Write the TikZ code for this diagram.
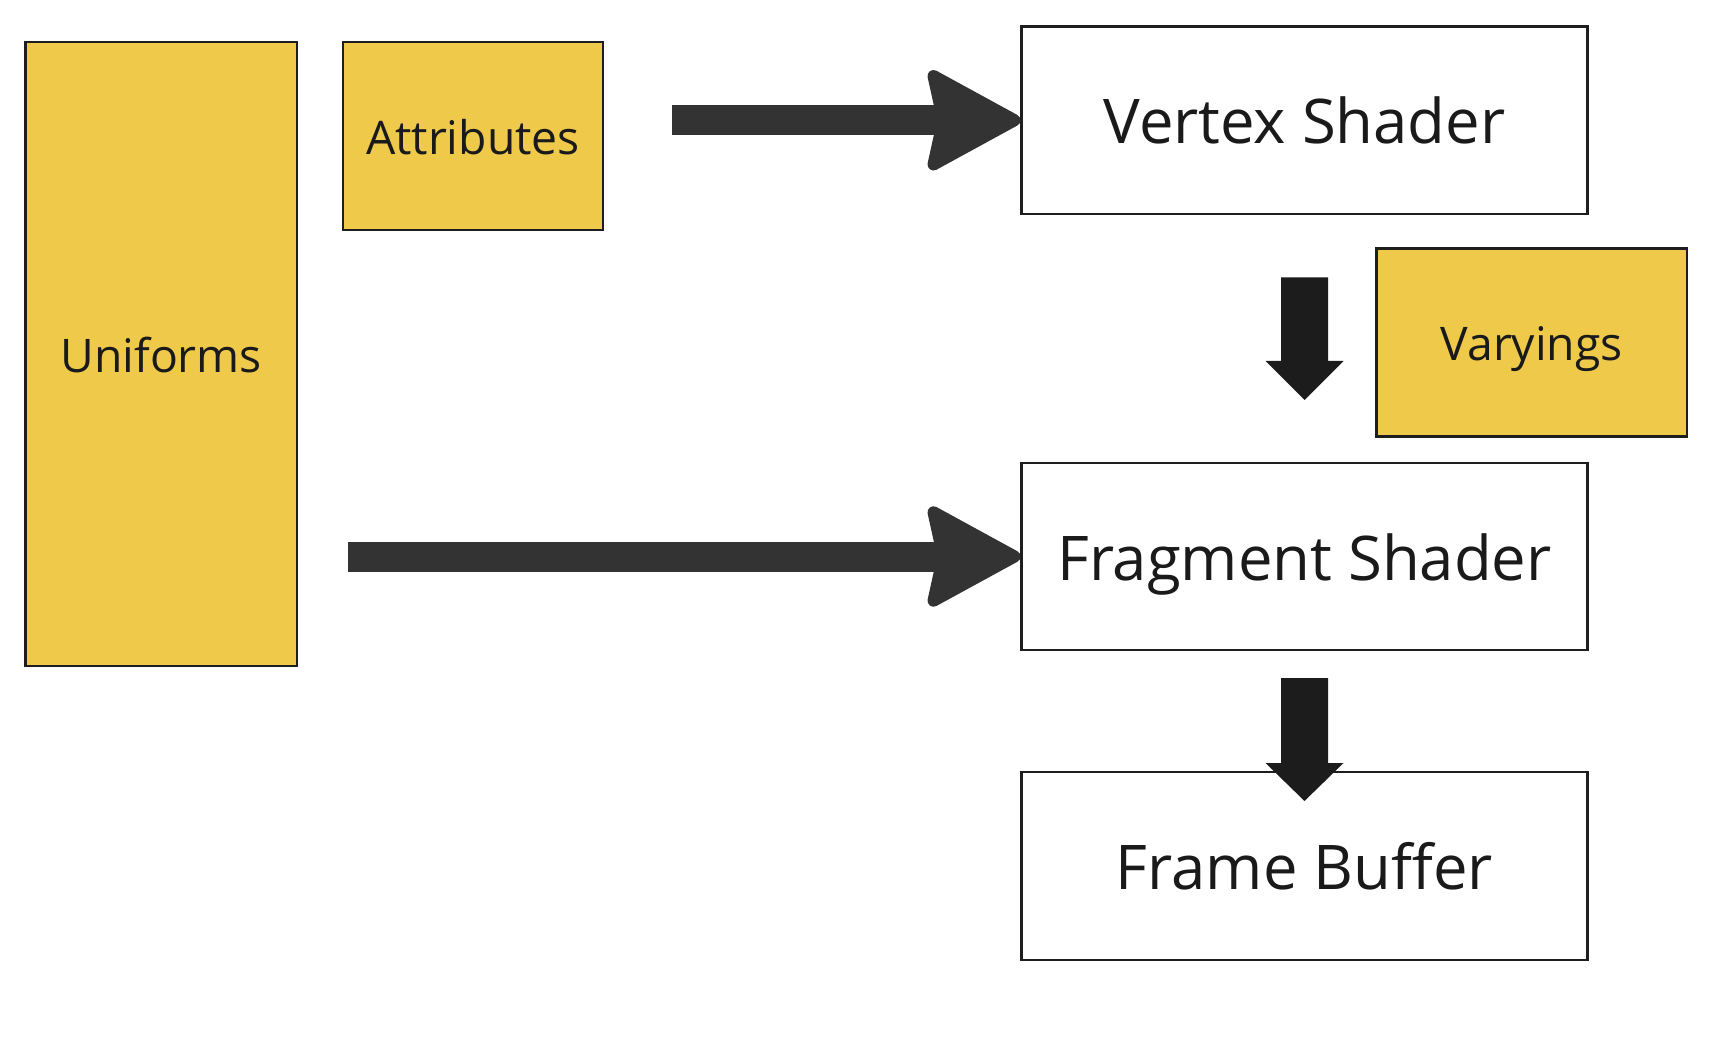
\documentclass[tikz,border=0pt]{standalone}
\usepackage{fontspec}
\setmainfont{Open Sans}
\usetikzlibrary{calc}
\definecolor{boxyellow}{HTML}{EFC94A}
\definecolor{edgec}{HTML}{1E1E1E}
\definecolor{harrowc}{HTML}{333333}
\definecolor{varrowc}{HTML}{1C1C1C}
\definecolor{txtc}{HTML}{1A1A1A}
\tikzset{
  box/.style={draw=edgec, line width=2.4pt, inner sep=0pt, outer sep=0pt, text=txtc, text depth=0pt, align=center},
  ybox/.style={box, fill=boxyellow, text height=37pt, font=\fontsize{46.3}{50}\selectfont},
  wbox/.style={box, fill=white, text height=47.5pt, font=\fontsize{61.6}{66}\selectfont},
  harrow/.style={fill=harrowc, draw=harrowc, line width=12pt, line join=round},
  hshaft/.style={fill=harrowc},
  varrow/.style={fill=varrowc}
}
\begin{document}
\begin{tikzpicture}[x=1pt,y=-1pt]
\useasboundingbox (0,0) rectangle (1730,1056);
\fill[white] (0,0) rectangle (1730,1056);

\node[ybox, minimum width=271.5pt, minimum height=624pt] (uni) at (161.25,354) {Uniforms};
\node[ybox, minimum width=260pt, minimum height=188pt] (attr) at (473,136) {Attributes};
\node[wbox, minimum width=566pt, minimum height=187.5pt] (vs) at (1304.5,120.25) {Vertex Shader};
\node[ybox, minimum width=310.5pt, minimum height=188pt] (var) at (1531.75,342.5) {Varyings};
\node[wbox, minimum width=566pt, minimum height=187pt] (fs) at (1304.5,556.5) {Fragment Shader};
\node[wbox, minimum width=566pt, minimum height=188pt] (fb) at (1304.5,866) {Frame Buffer};

% horizontal arrows
\path (vs.west) ++(-350,0) coordinate (a1s);
\fill[hshaft] ($(a1s)+(0,-15)$) rectangle ($(vs.west)+(-76,15)$);
\filldraw[harrow] ($(vs.west)+(-80,-8)$) -- ($(vs.west)+(-88,-44.25)$)
  -- ($(vs.west)+(-7,0)$) -- ($(vs.west)+(-88,44.25)$) -- ($(vs.west)+(-80,8)$) -- cycle;

\path (fs.west) ++(-674,0) coordinate (a2s);
\fill[hshaft] ($(a2s)+(0,-15)$) rectangle ($(fs.west)+(-76,15)$);
\filldraw[harrow] ($(fs.west)+(-80,-8)$) -- ($(fs.west)+(-88,-44.25)$)
  -- ($(fs.west)+(-7,0)$) -- ($(fs.west)+(-88,44.25)$) -- ($(fs.west)+(-80,8)$) -- cycle;

% vertical arrows
\path (vs.south) ++(0,63.5) coordinate (d1s);
\fill[varrow] ($(d1s)+(-23.5,0)$) -- ($(fs.north)+(-23.5,-102)$) -- ($(fs.north)+(-39,-102)$)
  -- ($(fs.north)+(0,-63)$) -- ($(fs.north)+(39,-102)$) -- ($(fs.north)+(23.5,-102)$)
  -- ($(d1s)+(23.5,0)$) -- cycle;

\path (fs.south) ++(0,28) coordinate (d2s);
\fill[varrow] ($(d2s)+(-23.5,0)$) -- ($(fb.north)+(-23.5,-9)$) -- ($(fb.north)+(-39,-9)$)
  -- ($(fb.north)+(0,29)$) -- ($(fb.north)+(39,-9)$) -- ($(fb.north)+(23.5,-9)$)
  -- ($(d2s)+(23.5,0)$) -- cycle;
\end{tikzpicture}
\end{document}
